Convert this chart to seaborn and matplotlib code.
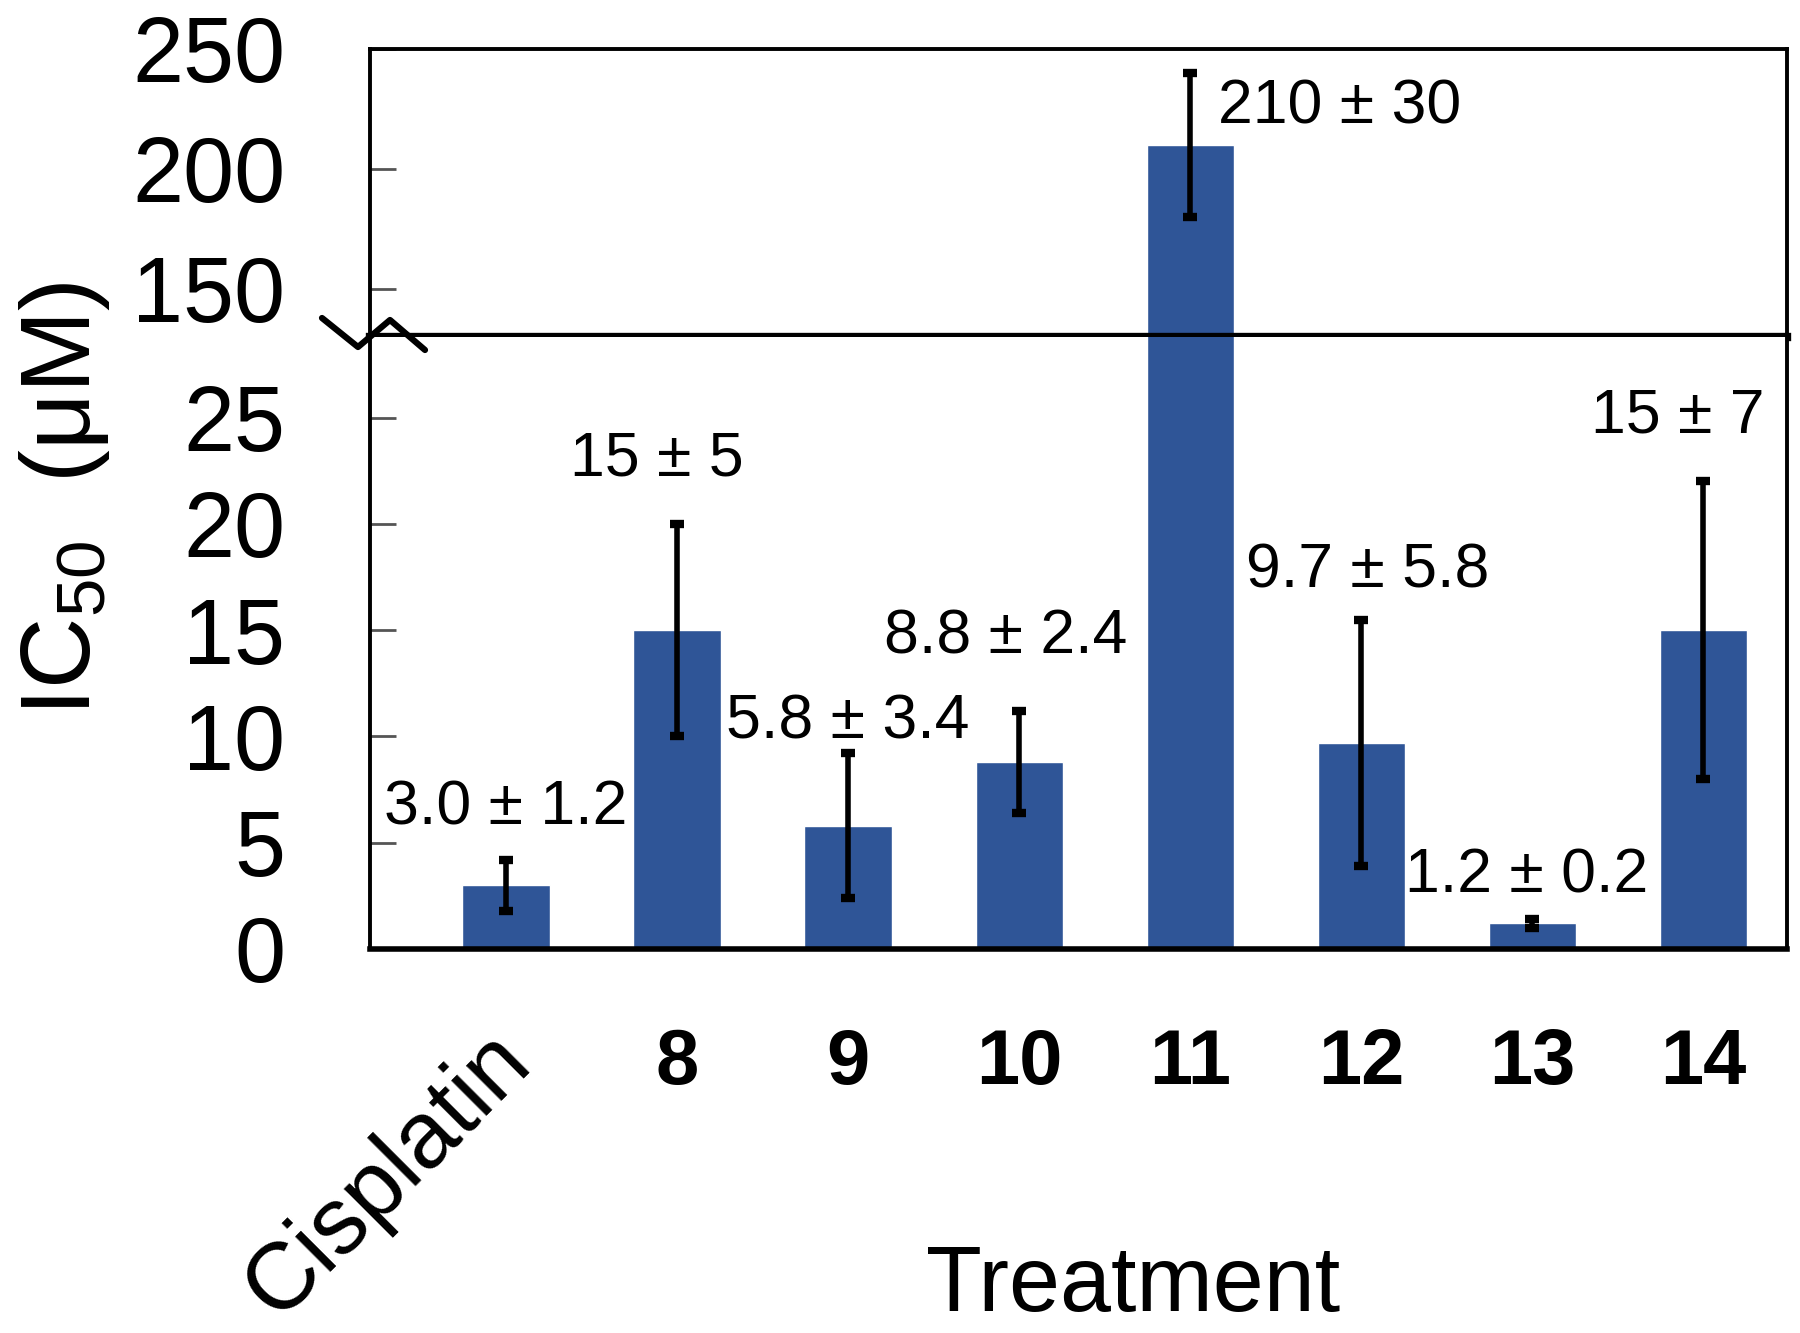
import matplotlib
matplotlib.use('Agg')
import matplotlib.pyplot as plt
import seaborn as sns
import pandas as pd
from matplotlib.lines import Line2D
from matplotlib.transforms import ScaledTranslation

# IC50 values
treatments = ['Cisplatin', '8', '9', '10', '11', '12', '13', '14']
ic50 = [3.0, 15, 5.8, 8.8, 210, 9.7, 1.2, 15]
ic50_err = [1.2, 5, 3.4, 2.4, 30, 5.8, 0.2, 7]
value_labels = ['3.0 ± 1.2', '15 ± 5', '5.8 ± 3.4', '8.8 ± 2.4',
                '210 ± 30', '9.7 ± 5.8', '1.2 ± 0.2', '15 ± 7']

# where the value labels sit (category units / data units)
label_x = [0.0, 0.88, 2.0, 2.92, 4.16, 5.04, 5.97, 6.85]
label_y = [6.65, 23.05, 10.7, 14.7, 225.9, 17.8, 3.45, 25.1]

sns.set_style('white')
plt.rcParams['font.family'] = ['Liberation Sans', 'DejaVu Sans']
plt.rcParams['mathtext.default'] = 'regular'
for k in ('text.color', 'axes.labelcolor', 'xtick.labelcolor', 'ytick.labelcolor'):
    plt.rcParams[k] = 'black'

df = pd.DataFrame({'treatment': treatments, 'ic50': ic50, 'err': ic50_err})

fig = plt.figure(figsize=(18, 13.33), dpi=100)
ax_top = fig.add_axes([0.2056, 0.7472, 0.7872, 0.2161])
ax_bot = fig.add_axes([0.2056, 0.2881, 0.7872, 0.4591])

bar_color = '#2F5597'
low_max = 28.8
for ax in (ax_top, ax_bot):
    sns.barplot(data=df, x='treatment', y='ic50', color=bar_color, saturation=1,
                width=0.51, errorbar=None, ax=ax)
    ax.errorbar(range(len(treatments)), df['ic50'], yerr=df['err'], fmt='none',
                ecolor='black', elinewidth=4, capsize=5, capthick=6)
    ax.set_xlim(-0.795, 7.49)
    ax.set_xlabel('')
    ax.set_ylabel('')
    ax.tick_params(axis='y', left=True, direction='in', length=19, width=2,
                   color='#555555', labelsize=66, pad=61, labelcolor='black')
    for s in ax.spines.values():
        s.set_color('black')
        s.set_linewidth(2.8)

ax_top.set_ylim(130, 250)
ax_top.set_yticks([150, 200, 250])
ax_top.set_xticks([])
ax_top.spines['bottom'].set_linewidth(6)

ax_bot.set_ylim(0, low_max)
ax_bot.set_yticks([0, 5, 10, 15, 20, 25])
ax_bot.spines['top'].set_visible(False)
ax_bot.spines['bottom'].set_linewidth(4)
ax_bot.tick_params(axis='x', bottom=False, length=0, pad=56, labelcolor='black')

for lab in ax_bot.get_xticklabels():
    if lab.get_text() == 'Cisplatin':
        lab.set_rotation(45)
        lab.set_rotation_mode('anchor')
        lab.set_ha('right')
        lab.set_va('center')
        lab.set_fontsize(68)
        lab.set_transform(lab.get_transform() + ScaledTranslation(0.1, -0.2, fig.dpi_scale_trans))
    else:
        lab.set_fontsize(56)
        lab.set_fontweight('bold')

for txt, x, y, v in zip(value_labels, label_x, label_y, ic50):
    if v > low_max:
        ax_top.text(x, y, txt, ha='left', va='center', fontsize=45)
    else:
        ax_bot.text(x, y, txt, ha='center', va='center', fontsize=45)

# break mark on the left axis
zx = [322, 358, 390, 425]
zy = [318, 347, 320, 350]
fig.add_artist(Line2D([p / 1800 for p in zx], [1 - p / 1333 for p in zy],
                      transform=fig.transFigure, color='black', lw=4.5))

fig.text(90 / 1800, 1 - 499 / 1333, r'IC$_{50}$  (μM)', rotation=90,
         rotation_mode='anchor', ha='center', va='baseline', fontsize=71)
fig.text(1133 / 1800, 0.002, 'Treatment', ha='center', va='bottom', fontsize=66)

fig.savefig('out.png', dpi=100)
